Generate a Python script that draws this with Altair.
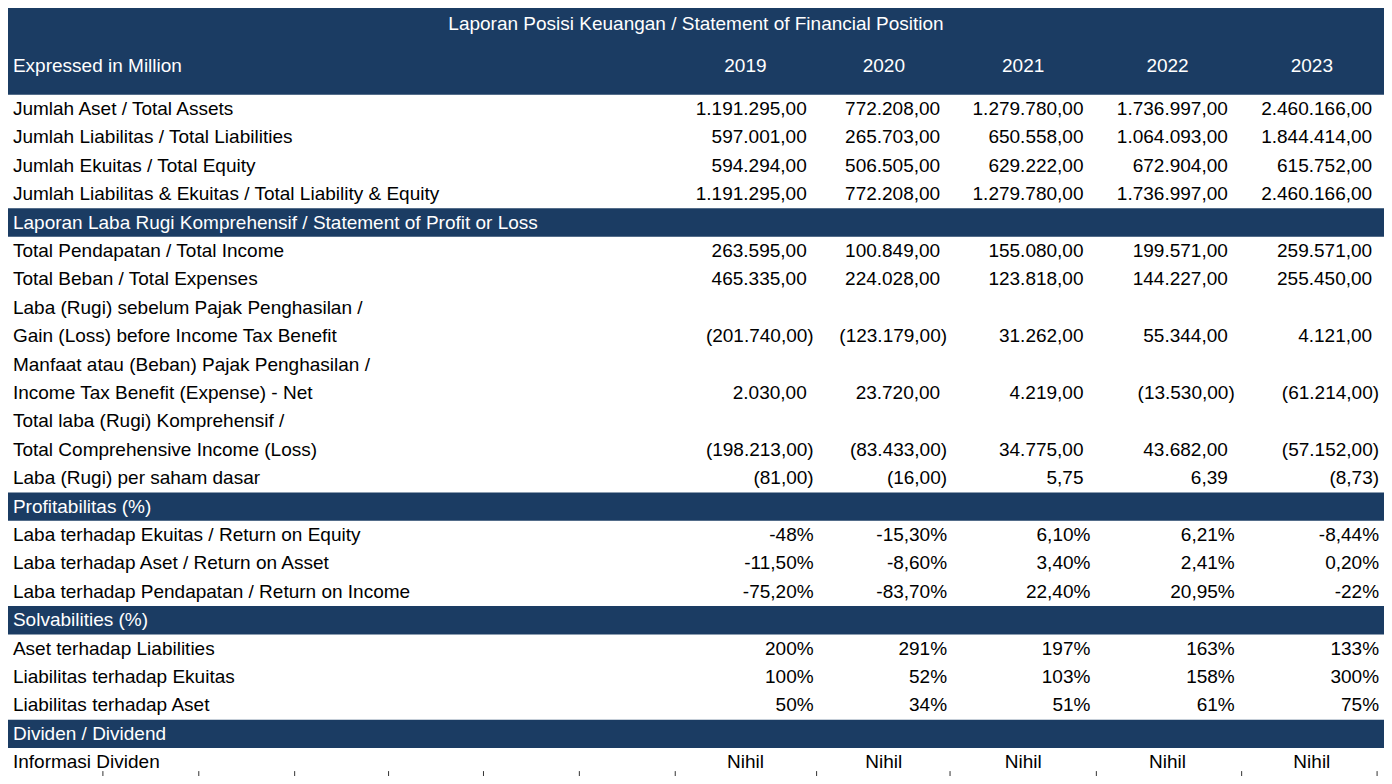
import altair as alt
import pandas as pd

# ---------------- data ----------------
years = ["2019", "2020", "2021", "2022", "2023"]
title = "Laporan Posisi Keuangan / Statement of Financial Position"
unit_label = "Expressed in Million"

total_assets = ["1.191.295,00", "772.208,00", "1.279.780,00", "1.736.997,00", "2.460.166,00"]
total_liabilities = ["597.001,00", "265.703,00", "650.558,00", "1.064.093,00", "1.844.414,00"]
total_equity = ["594.294,00", "506.505,00", "629.222,00", "672.904,00", "615.752,00"]
total_liab_equity = ["1.191.295,00", "772.208,00", "1.279.780,00", "1.736.997,00", "2.460.166,00"]

total_income = ["263.595,00", "100.849,00", "155.080,00", "199.571,00", "259.571,00"]
total_expenses = ["465.335,00", "224.028,00", "123.818,00", "144.227,00", "255.450,00"]
gain_before_tax = ["(201.740,00)", "(123.179,00)", "31.262,00", "55.344,00", "4.121,00"]
tax_benefit = ["2.030,00", "23.720,00", "4.219,00", "(13.530,00)", "(61.214,00)"]
comprehensive_income = ["(198.213,00)", "(83.433,00)", "34.775,00", "43.682,00", "(57.152,00)"]
eps = ["(81,00)", "(16,00)", "5,75", "6,39", "(8,73)"]

roe = ["-48%", "-15,30%", "6,10%", "6,21%", "-8,44%"]
roa = ["-11,50%", "-8,60%", "3,40%", "2,41%", "0,20%"]
roi = ["-75,20%", "-83,70%", "22,40%", "20,95%", "-22%"]

asset_to_liab = ["200%", "291%", "197%", "163%", "133%"]
liab_to_equity = ["100%", "52%", "103%", "158%", "300%"]
liab_to_asset = ["50%", "34%", "51%", "61%", "75%"]

dividend_info = ["Nihil", "Nihil", "Nihil", "Nihil", "Nihil"]

# row order: (label, values, kind)   kind: row / band / note / center
rows = [
    ("Jumlah Aset / Total Assets", total_assets, "row"),
    ("Jumlah Liabilitas / Total Liabilities", total_liabilities, "row"),
    ("Jumlah Ekuitas / Total Equity", total_equity, "row"),
    ("Jumlah Liabilitas & Ekuitas / Total Liability & Equity", total_liab_equity, "row"),
    ("Laporan Laba Rugi Komprehensif / Statement of Profit or Loss", None, "band"),
    ("Total Pendapatan / Total Income", total_income, "row"),
    ("Total Beban / Total Expenses", total_expenses, "row"),
    ("Laba (Rugi) sebelum Pajak Penghasilan /", None, "note"),
    ("Gain (Loss) before Income Tax Benefit", gain_before_tax, "row"),
    ("Manfaat atau (Beban) Pajak Penghasilan /", None, "note"),
    ("Income Tax Benefit (Expense) - Net", tax_benefit, "row"),
    ("Total laba (Rugi) Komprehensif /", None, "note"),
    ("Total Comprehensive Income (Loss)", comprehensive_income, "row"),
    ("Laba (Rugi) per saham dasar", eps, "row"),
    ("Profitabilitas (%)", None, "band"),
    ("Laba terhadap Ekuitas / Return on Equity", roe, "row"),
    ("Laba terhadap Aset / Return on Asset", roa, "row"),
    ("Laba terhadap Pendapatan / Return on Income", roi, "row"),
    ("Solvabilities (%)", None, "band"),
    ("Aset terhadap Liabilities", asset_to_liab, "row"),
    ("Liabilitas terhadap Ekuitas", liab_to_equity, "row"),
    ("Liabilitas terhadap Aset", liab_to_asset, "row"),
    ("Dividen / Dividend", None, "band"),
    ("Informasi Dividen", dividend_info, "center"),
]

# ---------------- layout (reference pixel grid) ----------------
REF_W, REF_H = 1392, 784
W, H = 1376, 768
ROW0, PITCH = 103, 29
col_right = [815, 950, 1095, 1241, 1387]
col_center = [746, 886, 1027, 1173, 1319]
label_x = 5
pad_digit = 7          # room kept for ")" after positive numbers
grid_x = [96, 193, 290, 385, 481, 578, 675, 818, 953, 1101, 1248, 1385]

NAVY = "#1B3C63"
FONT = "Liberation Sans"
FS = 19

y_dom = [(0 - ROW0) / PITCH, (REF_H - ROW0) / PITCH]
xs = alt.Scale(domain=[0, REF_W], range=[0, W])
ys = alt.Scale(domain=y_dom, range=[0, H])

band_recs = [{"x": 0, "x2": REF_W, "y": y_dom[0], "y2": -0.5}]
left_recs = [{"x": label_x, "row": -1.5, "text": unit_label, "c": "white"}]
center_recs = [{"x": REF_W / 2, "row": -3, "text": title, "c": "white"}]
for i, yr in enumerate(years):
    center_recs.append({"x": col_center[i], "row": -1.5, "text": yr, "c": "white"})
right_recs = []

for r, (lab, vals, kind) in enumerate(rows):
    if kind == "band":
        band_recs.append({"x": 0, "x2": REF_W, "y": r - 0.5, "y2": r + 0.5})
        left_recs.append({"x": label_x, "row": r, "text": lab, "c": "white"})
        continue
    left_recs.append({"x": label_x, "row": r, "text": lab, "c": "black"})
    if vals is None:
        continue
    for i, v in enumerate(vals):
        if kind == "center":
            center_recs.append({"x": col_center[i], "row": r, "text": v, "c": "black"})
        else:
            off = pad_digit if v[-1].isdigit() else 0
            right_recs.append({"x": col_right[i] - off, "row": r, "text": v, "c": "black"})

tick_y0 = (779 - ROW0) / PITCH
tick_recs = [{"x": gx, "y": tick_y0, "y2": y_dom[1]} for gx in grid_x]

bands = alt.Chart(pd.DataFrame(band_recs)).mark_rect(color=NAVY, strokeWidth=0).encode(
    x=alt.X("x:Q", scale=xs, axis=None),
    x2="x2:Q",
    y=alt.Y("y:Q", scale=ys, axis=None),
    y2="y2:Q",
)


def text_layer(recs, align):
    return alt.Chart(pd.DataFrame(recs)).mark_text(
        align=align, baseline="middle", font=FONT, fontSize=FS, dy=0
    ).encode(
        x=alt.X("x:Q", scale=xs, axis=None),
        y=alt.Y("row:Q", scale=ys, axis=None),
        text="text:N",
        color=alt.Color("c:N", scale=None),
    )


ticks = alt.Chart(pd.DataFrame(tick_recs)).mark_rule(color="#333333", strokeWidth=1).encode(
    x=alt.X("x:Q", scale=xs, axis=None),
    y=alt.Y("y:Q", scale=ys, axis=None),
    y2="y2:Q",
)

chart = alt.layer(
    bands,
    ticks,
    text_layer(left_recs, "left"),
    text_layer(center_recs, "center"),
    text_layer(right_recs, "right"),
).properties(width=W, height=H, padding=0).configure_view(stroke=None)

chart.save("out.html", embed_options={"renderer": "svg", "actions": False})
